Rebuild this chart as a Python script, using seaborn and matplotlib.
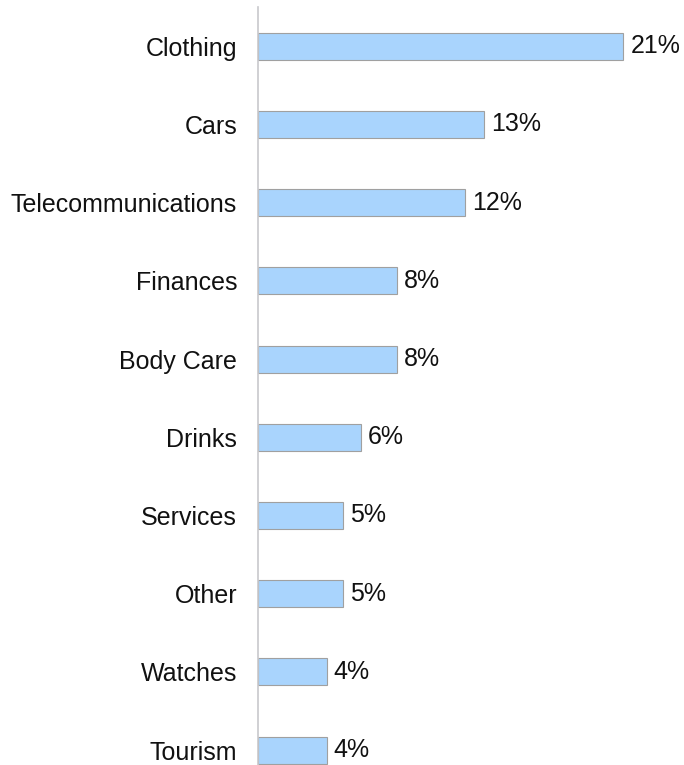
import matplotlib
matplotlib.use("Agg")
import matplotlib.pyplot as plt
import seaborn as sns
import pandas as pd

categories = ["Clothing", "Cars", "Telecommunications", "Finances", "Body Care",
              "Drinks", "Services", "Other", "Watches", "Tourism"]
values = [21, 13, 11.9, 8, 8, 5.9, 4.9, 4.9, 3.95, 3.95]
labels = ["21%", "13%", "12%", "8%", "8%", "6%", "5%", "5%", "4%", "4%"]

df = pd.DataFrame({"category": categories, "value": values})

sns.set_style("white")
plt.rcParams["font.family"] = ["Liberation Sans", "DejaVu Sans"]

fig = plt.figure(figsize=(6.84, 7.65), dpi=100)
ax = fig.add_axes([258 / 684, 0, (684 - 258) / 684, 758 / 765])

sns.barplot(data=df, y="category", x="value", orient="h", color="#a9d4fd",
            saturation=1, width=0.345, edgecolor="#a0a0a0", linewidth=0.8, ax=ax)

for i, (v, lab) in enumerate(zip(values, labels)):
    ax.annotate(lab, xy=(v, i), xytext=(5, 0), textcoords="offset points",
                va="center", ha="left", fontsize=18, color="#111111")

ax.set_xlim(0, 426 / 17.4)
ax.set_ylim(9.19, -0.5)
ax.set_xlabel("")
ax.set_ylabel("")
ax.set_xticks([])
ax.tick_params(axis="y", length=0, pad=15, labelsize=18, labelcolor="#111111")
for s in ["top", "right", "bottom"]:
    ax.spines[s].set_visible(False)
ax.spines["left"].set_color("#c8c8cc")
ax.spines["left"].set_linewidth(1.2)

fig.savefig("out.png", dpi=100)
